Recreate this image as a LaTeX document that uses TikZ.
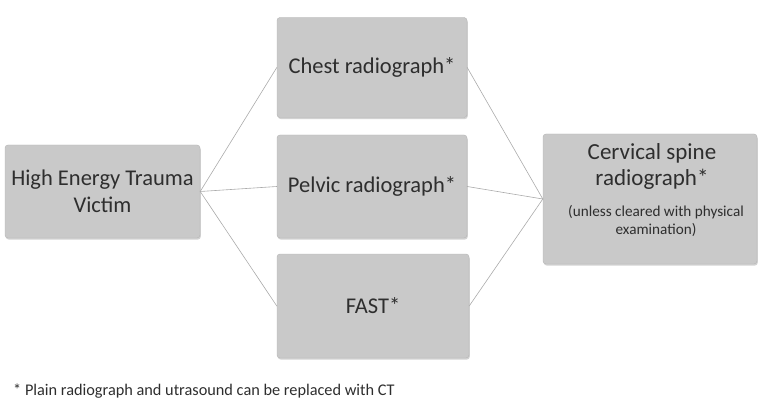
\documentclass[tikz,border=0pt]{standalone}
\usepackage{fontspec}
\setmainfont{Carlito}
\usepackage{tikz}
\usetikzlibrary{shadows}

\definecolor{boxgray}{HTML}{C9C9C9}
\definecolor{linegray}{HTML}{ABABAB}
\definecolor{txtgray}{HTML}{2E2E2E}

\begin{document}
\begin{tikzpicture}[x=1pt, y=-1pt, line join=round, line cap=round,
	stepbox/.style={draw=boxgray!90!black, line width=0.4pt, fill=boxgray, rounded corners=3pt,
		text=txtgray, align=center, inner sep=2pt, font=\fontsize{22.5}{27}\selectfont,
		drop shadow={shadow xshift=0.8pt, shadow yshift=-1.6pt, fill=black!35, opacity=0.5}},
	link/.style={draw=linegray, line width=0.6pt}]
	\useasboundingbox (0,0) rectangle (758,409);
	% Ô bắt đầu
	\node[stepbox, minimum width=195pt, minimum height=93pt] (victim) at (102.5,191.5) {High Energy Trauma\\Victim};
	% Ba xét nghiệm
	\node[stepbox, minimum width=190pt, minimum height=100pt] (chest) at (372,67.5) {Chest radiograph*};
	\node[stepbox, minimum width=190pt, minimum height=103pt] (pelvic) at (372,186.5) {Pelvic radiograph*};
	\node[stepbox, minimum width=192pt, minimum height=104pt] (fast) at (373,306) {FAST*};
	% Ô cột sống cổ
	\node[stepbox, minimum width=214pt, minimum height=130pt] (spine) at (650,199) {};
	\node[text=txtgray, align=center, inner sep=0pt, font=\fontsize{23}{26}\selectfont] (spinetitle) at (652,166) {Cervical spine\\radiograph*};
	\node[text=txtgray, align=center, inner sep=0pt, font=\fontsize{15.2}{18}\selectfont] (spinenote) at (656,221) {(unless cleared with physical\\examination)};
	% Đường nối
	\draw[link] (victim.east) -- (chest.west);
	\draw[link] (victim.east) -- (pelvic.west);
	\draw[link] (victim.east) -- (fast.west);
	\draw[link] (chest.east) -- (spine.west);
	\draw[link] (pelvic.east) -- (spine.west);
	\draw[link] (fast.east) -- (spine.west);
	% Chú thích
	\node[anchor=west, text=txtgray, font=\fontsize{16.3}{19}\selectfont, inner sep=0pt] (note) at (13,391) {* Plain radiograph and utrasound can be replaced with CT};
\end{tikzpicture}
\end{document}
